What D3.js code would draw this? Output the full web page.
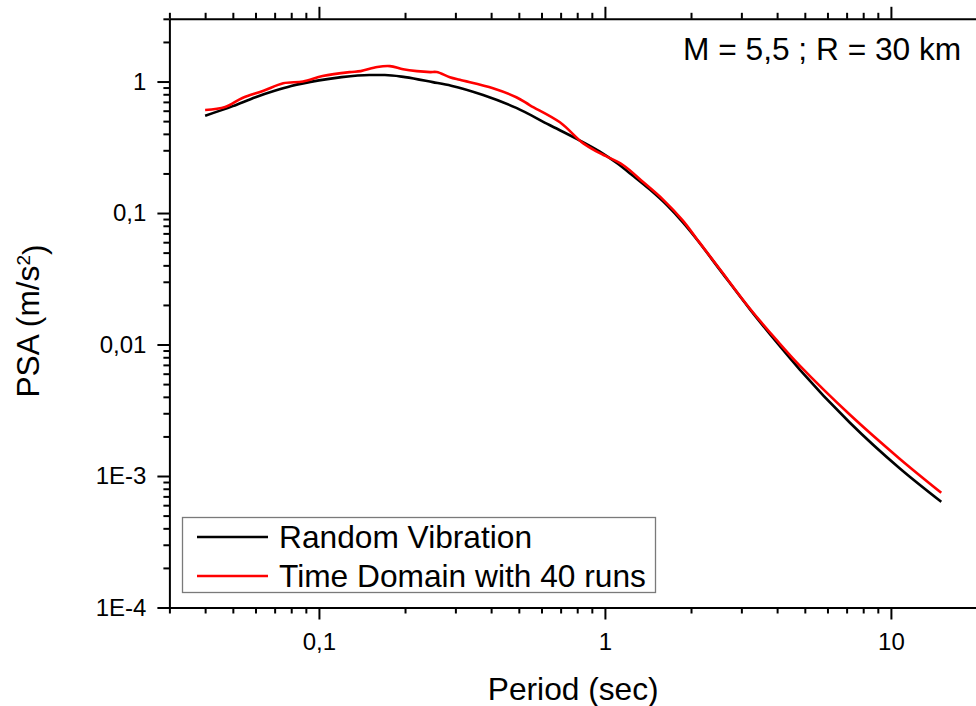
<!DOCTYPE html>
<html>
<head>
<meta charset="utf-8">
<script src="https://cdn.jsdelivr.net/npm/d3@7"></script>
<style>
  body { margin: 0; background: #fff; }
  svg { display: block; }
  text { font-family: "Liberation Sans", Arial, sans-serif; fill: #000; }
</style>
</head>
<body>
<svg id="psa" width="976" height="706"></svg>
<script>
/** Chart data **/
var rv_period = [0.04, 0.05, 0.06, 0.07, 0.08, 0.1, 0.12, 0.15, 0.17, 0.2, 0.25, 0.29,
                 0.375, 0.49, 0.64, 0.8, 0.96, 1.1, 1.25, 1.44, 1.65, 1.87, 2.1, 2.52,
                 3.21, 4.03, 4.8, 7.19, 10.7, 15];
var rv_psa    = [0.55, 0.65, 0.76, 0.85, 0.925, 1.02, 1.08, 1.12, 1.12, 1.08, 0.99, 0.93,
                 0.79, 0.63, 0.467, 0.365, 0.293, 0.24, 0.193, 0.150, 0.1143, 0.0852, 0.0627, 0.0371,
                 0.0186, 0.0101, 0.00645, 0.00254, 0.00115, 0.000636];

var td_period = [0.04, 0.047, 0.054, 0.064, 0.075, 0.088, 0.103, 0.128, 0.14, 0.16, 0.177,
                 0.197, 0.22, 0.245, 0.258, 0.287, 0.311, 0.406, 0.49, 0.547, 0.696, 0.838,
                 0.96, 1.156, 1.36, 1.6, 1.87, 2.15, 2.52, 3.21, 4.03, 4.8, 7.19, 10.7, 15];
var td_psa    = [0.607, 0.64, 0.75, 0.85, 0.97, 1.0, 1.10, 1.18, 1.2, 1.29, 1.31,
                 1.24, 1.20, 1.18, 1.18, 1.08, 1.03, 0.89, 0.76, 0.66, 0.49, 0.34,
                 0.285, 0.232, 0.172, 0.126, 0.088, 0.059, 0.0375, 0.0188, 0.0105, 0.0069, 0.00292, 0.00136, 0.000745];

var xMajor = [0.1, 1, 10];
var xMajorLabels = ["0,1", "1", "10"];
var yMajor = [1e-4, 1e-3, 0.01, 0.1, 1];
var yMajorLabels = ["1E-4", "1E-3", "0,01", "0,1", "1"];

var seriesNames = ["Random Vibration", "Time Domain with 40 runs"];
var seriesColors = ["#000000", "#ff0000"];
var title = "M = 5,5 ; R = 30 km";

function minorTicks(lo, hi)
{
    var out = [];
    for (var e = Math.floor(Math.log10(lo)); e <= Math.ceil(Math.log10(hi)); e++) {
        for (var m = 2; m <= 9; m++) {
            var v = m * Math.pow(10, e);
            if (v >= lo * 0.999 && v <= hi * 1.001) out.push(v);
        }
    }
    return out;
}

function drawChart()
{
    var svg = d3.select("#psa");

    var plotL = 169.4, plotR = 977, plotT = 18.8, plotB = 607.5;
    var bigFont = "31.7px";

    var xScale = d3.scaleLog().domain([0.03, 20]).range([plotL, plotR]);
    var yScale = d3.scaleLog().domain([1e-4, 3]).range([plotB, plotT]);

    var axisW = 2;

    // bottom axis
    var gx = svg.append("g").attr("transform", "translate(0," + plotB + ")");
    gx.call(d3.axisBottom(xScale).tickValues(minorTicks(0.03, 20)).tickSize(6).tickSizeOuter(0).tickFormat(""));
    var gx2 = svg.append("g").attr("transform", "translate(0," + plotB + ")");
    gx2.call(d3.axisBottom(xScale).tickValues(xMajor).tickSize(12).tickSizeOuter(0)
        .tickPadding(13).tickFormat(function(d, i) { return xMajorLabels[i]; }));
    gx2.select(".domain").remove();

    // top axis (mirror, no labels)
    var gt = svg.append("g").attr("transform", "translate(0," + plotT + ")");
    gt.call(d3.axisTop(xScale).tickValues(minorTicks(0.03, 20)).tickSize(6).tickSizeOuter(0).tickFormat(""));
    var gt2 = svg.append("g").attr("transform", "translate(0," + plotT + ")");
    gt2.call(d3.axisTop(xScale).tickValues(xMajor).tickSize(12).tickSizeOuter(0).tickFormat(""));
    gt2.select(".domain").remove();

    // left axis
    var gy = svg.append("g").attr("transform", "translate(" + plotL + ",0)");
    gy.call(d3.axisLeft(yScale).tickValues(minorTicks(1e-4, 3)).tickSize(6).tickSizeOuter(0).tickFormat(""));
    var gy2 = svg.append("g").attr("transform", "translate(" + plotL + ",0)");
    gy2.call(d3.axisLeft(yScale).tickValues(yMajor).tickSize(12).tickSizeOuter(0)
        .tickPadding(11).tickFormat(function(d, i) { return yMajorLabels[i]; }));
    gy2.select(".domain").remove();

    svg.selectAll(".domain").attr("stroke", "#000").attr("stroke-width", axisW);
    svg.selectAll(".tick line").attr("stroke", "#000").attr("stroke-width", axisW);
    svg.selectAll(".tick text")
        .style("font-family", "'Liberation Sans', Arial, sans-serif")
        .style("font-size", "24px")
        .attr("fill", "#000");

    // curves
    var line = d3.line()
        .x(function(d) { return xScale(d[0]); })
        .y(function(d) { return yScale(d[1]); });

    var rvData = rv_period.map(function(p, i) { return [p, rv_psa[i]]; });
    var tdData = td_period.map(function(p, i) { return [p, td_psa[i]]; });

    svg.append("path")
        .datum(rvData)
        .attr("fill", "none")
        .attr("stroke", seriesColors[0])
        .attr("stroke-width", 2.6)
        .attr("d", line.curve(d3.curveMonotoneX));

    svg.append("path")
        .datum(tdData)
        .attr("fill", "none")
        .attr("stroke", seriesColors[1])
        .attr("stroke-width", 2.6)
        .attr("stroke-linejoin", "round")
        .attr("d", line.curve(d3.curveCatmullRom.alpha(0.5)));

    // legend
    var lg = svg.append("g");
    lg.append("rect")
        .attr("x", 182.5).attr("y", 517.5)
        .attr("width", 473).attr("height", 75)
        .attr("fill", "#fff")
        .attr("stroke", "#7a7a7a")
        .attr("stroke-width", 1.3);

    seriesNames.forEach(function(name, i) {
        var yy = 537 + i * 39;
        lg.append("line")
            .attr("x1", 197).attr("x2", 268)
            .attr("y1", yy).attr("y2", yy)
            .attr("stroke", seriesColors[i])
            .attr("stroke-width", 2.6);
        lg.append("text")
            .attr("x", 279).attr("y", yy + 11)
            .style("font-size", bigFont)
            .text(name);
    });

    // label inside plot
    svg.append("text")
        .attr("x", 683).attr("y", 60)
        .style("font-size", bigFont)
        .text(title);

    // axis titles
    svg.append("text")
        .attr("x", (plotL + plotR) / 2).attr("y", 700)
        .attr("text-anchor", "middle")
        .style("font-size", bigFont)
        .text("Period (sec)");

    var yt = svg.append("text")
        .attr("transform", "translate(39,321) rotate(-90)")
        .attr("text-anchor", "middle")
        .style("font-size", bigFont);
    yt.append("tspan").text("PSA (m/s");
    yt.append("tspan").attr("dy", "-0.45em").style("font-size", "19px").text("2");
    yt.append("tspan").attr("dy", "0.45em").text(")");
}

drawChart();
</script>
</body>
</html>
